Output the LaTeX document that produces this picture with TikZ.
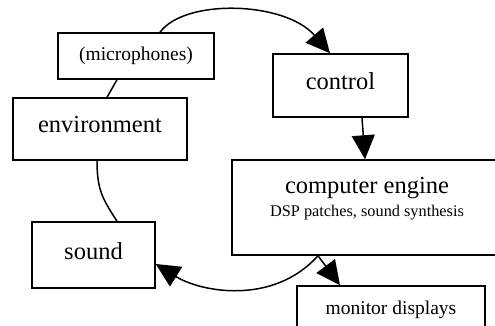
\documentclass[tikz,border=0pt]{standalone}
\usepackage{fontspec}
\setmainfont{Liberation Serif}
\usetikzlibrary{arrows.meta}
\newcommand{\bigfont}{\fontsize{24.5}{23}\selectfont}
\newcommand{\midfont}{\fontsize{19.5}{22}\selectfont}
\newcommand{\notefont}{\fontsize{16.3}{23}\selectfont}

\begin{document}
\begin{tikzpicture}[
  x=1pt, y=-1pt,
  box/.style={draw, line width=1.5pt, inner sep=0pt, font=\bigfont},
  word/.style={box, text depth=8.5pt},
  link/.style={line width=1.5pt},
  arr/.style={link, -{Triangle[length=24pt,width=23pt]}}
]
  \clip (0,0) rectangle (495,326);

  \node[box, font=\midfont, minimum width=156, minimum height=46] (mic) at (136,56) {(microphones)};
  \node[word, minimum width=174, minimum height=62] (env) at (100,129) {environment};
  \node[word, minimum width=135, minimum height=63] (ctrl) at (340.5,85.5) {control};
  \node[box, align=center, text depth=21.5pt, minimum width=270, minimum height=95] (engine) at (367,207.5)
    {computer engine\\{\notefont DSP patches, sound synthesis}};
  \node[word, minimum width=123, minimum height=66] (snd) at (93.5,255) {sound};
  \node[box, font=\midfont, minimum width=188, minimum height=48] (mon) at (391,310) {monitor displays};

  \draw[arr] ([xshift=24pt]mic.north) .. controls +(25,-34) and +(-45,-52) .. ([xshift=-10.5pt]ctrl.north);
  \draw[link] ([xshift=-19pt]mic.south) -- ([xshift=7pt]env.north);
  \draw[link] ([xshift=-3pt]env.south) .. controls +(0,30) and +(-14,-22) .. ([xshift=23.5pt]snd.north);
  \draw[arr] ([xshift=21.5pt]ctrl.south) -- ([xshift=-2pt]engine.north);
  \draw[arr] ([xshift=-49pt]engine.south) .. controls +(-45,50) and +(45,28) .. ([yshift=-9pt]snd.east);
  \draw[arr] ([xshift=-49pt]engine.south) -- ([xshift=-51pt]mon.north);
\end{tikzpicture}
\end{document}
